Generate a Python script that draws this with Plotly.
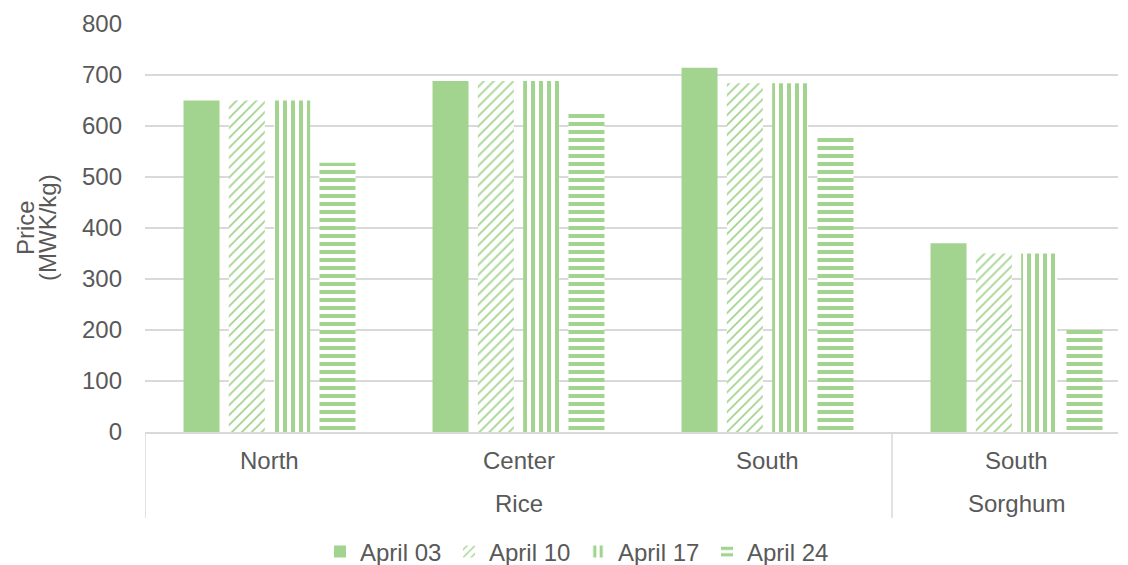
import plotly.graph_objects as go

crops = ["Rice", "Rice", "Rice", "Sorghum"]
regions = ["North", "Center", "South", "South"]
series_names = ["April 03", "April 10", "April 17", "April 24"]
april03 = [650, 688, 714, 370]
april10 = [650, 688, 684, 350]
april17 = [650, 688, 684, 350]
april24 = [528, 631, 583, 200]
y_ticks = [0, 100, 200, 300, 400, 500, 600, 700, 800]

GREEN = "#A3D48F"
TEXT = "#595959"
GRID = "#D9D9D9"
FONT = "Liberation Sans, Arial, sans-serif"
FS = 24

W, H = 1128, 565
L, R, T, B = 145, 10, 24, 133
PH = H - T - B
PW = W - L - R
CAT_W = 249  # pixel width of one category slot


def py(pix):
    return (H - B - pix) / PH


def px(pix):
    return (pix - L) / PW


patterns = [None, "/", "|", "-"]
values = [april03, april10, april17, april24]
xpos = list(range(len(regions)))

fig = go.Figure()
for name, vals, pat in zip(series_names, values, patterns):
    if pat is None:
        marker = dict(color=GREEN, line=dict(width=0))
    else:
        marker = dict(
            color="white",
            line=dict(width=0),
            pattern=dict(shape=pat, fgcolor=GREEN, bgcolor="white",
                         size=8 if pat != "/" else 7,
                         solidity=0.5 if pat != "/" else 0.25,
                         fillmode="replace"),
        )
    fig.add_trace(go.Bar(name=name, x=xpos, y=vals, marker=marker))

annotations = []
for i, reg in enumerate(regions):
    annotations.append(dict(x=i, y=py(460), xref="x", yref="paper", text=reg,
                            showarrow=False, font=dict(size=FS, color=TEXT),
                            xanchor="center", yanchor="middle"))
groups = []
for i, c in enumerate(crops):
    if groups and groups[-1][0] == c:
        groups[-1][2] = i
    else:
        groups.append([c, i, i])
shapes = []
for c, a, b in groups:
    annotations.append(dict(x=(a + b) / 2, y=py(503), xref="x", yref="paper", text=c,
                            showarrow=False, font=dict(size=FS, color=TEXT),
                            xanchor="center", yanchor="middle"))
    shapes.append(dict(type="line", xref="x", yref="paper", x0=a - 0.5, x1=a - 0.5,
                       y0=0, y1=py(518), line=dict(color=GRID, width=1.5)))
for txt, xp in [("Price", 25), ("(MWK/kg)", 47)]:
    annotations.append(dict(x=px(xp), y=0.5, xref="paper", yref="paper",
                            text=txt, textangle=-90, showarrow=False,
                            font=dict(size=FS, color=TEXT), xanchor="center", yanchor="middle"))

fig.update_layout(
    width=W, height=H,
    barmode="group",
    bargap=0.272, bargroupgap=0.205,
    paper_bgcolor="white", plot_bgcolor="white",
    margin=dict(l=L, r=R, t=T, b=B, autoexpand=False),
    font=dict(family=FONT, size=FS, color=TEXT),
    legend=dict(orientation="h", x=px(578), xanchor="center",
                y=py(552), yanchor="middle", entrywidth=84, entrywidthmode="pixels",
                font=dict(size=FS, color=TEXT), traceorder="normal"),
    showlegend=True,
    annotations=annotations,
    shapes=shapes,
)
fig.update_yaxes(
    range=[0, 800], tickvals=y_ticks, showgrid=True, gridcolor=GRID, gridwidth=1.5,
    zeroline=False, showline=False, ticks="", ticklabelstandoff=22, automargin=False,
    tickfont=dict(size=FS, color=TEXT),
)
fig.update_xaxes(
    range=[-0.5, -0.5 + PW / CAT_W], showline=True, linecolor=GRID, linewidth=1.5,
    showticklabels=False, ticks="", showgrid=False, zeroline=False, automargin=False,
)
fig.write_html("out.html", config={"displayModeBar": False},
               post_script="document.body.style.margin='0';")
